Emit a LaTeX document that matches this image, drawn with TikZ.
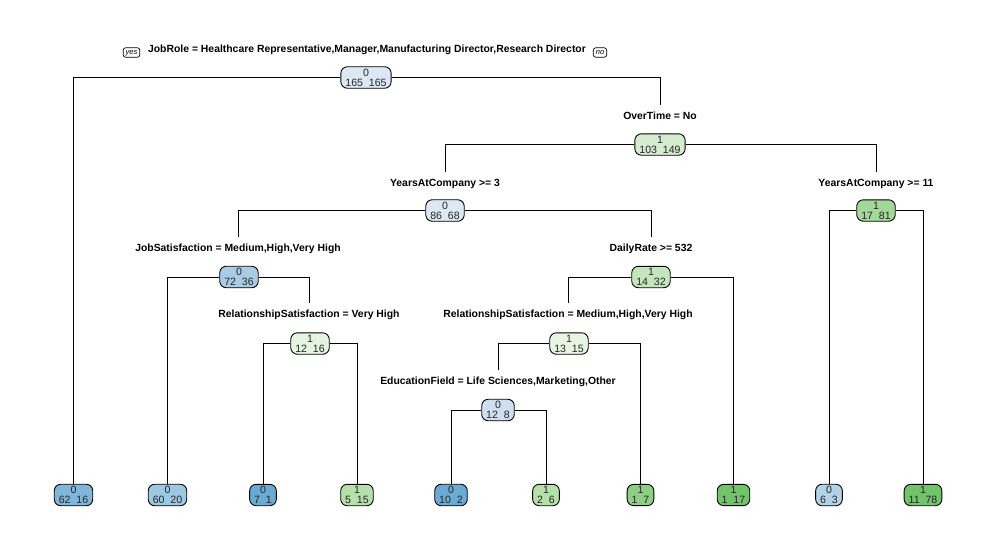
\documentclass[tikz,border=0pt]{standalone}
\usepackage{fontspec}
\setmainfont{Liberation Sans}
\definecolor{cA}{HTML}{DDE8F5}
\definecolor{cOT}{HTML}{D5ECCF}
\definecolor{cY11}{HTML}{A3D89A}
\definecolor{cJS}{HTML}{A8CCE4}
\definecolor{cRV}{HTML}{E5F4E0}
\definecolor{cDR}{HTML}{C5E6BD}
\definecolor{cRM}{HTML}{E8F5E3}
\definecolor{cEF}{HTML}{CFDFF0}
\definecolor{cL1}{HTML}{7FB6DC}
\definecolor{cL2}{HTML}{9DC8E3}
\definecolor{cL3}{HTML}{6AABD6}
\definecolor{cL4}{HTML}{B4E0AA}
\definecolor{cL7}{HTML}{8ECF85}
\definecolor{cL8}{HTML}{71C46A}
\definecolor{cL9}{HTML}{B1D2E8}
\begin{document}
\begin{tikzpicture}[x=1pt,y=-1pt,
  box/.style={draw, line width=0.9pt, rounded corners=6.5pt, align=center,
    inner xsep=4.5pt, inner ysep=2pt, text=black!85,
    font=\fontsize{10.6}{10}\selectfont},
  lbl/.style={font=\bfseries\fontsize{10.4}{11}\selectfont, inner xsep=1pt, inner ysep=5.5pt,
    text height=8pt, text depth=2pt},
  yn/.style={draw, line width=0.7pt, rounded corners=2.5pt, inner xsep=2.5pt, inner ysep=1.5pt,
    text height=5pt, text depth=1.5pt, font=\itshape\fontsize{7.5}{8}\selectfont},
  edge/.style={line width=1pt}]
\useasboundingbox (0,0) rectangle (997,547);
% split labels
\node[lbl] (l1) at (367,49) {JobRole = Healthcare Representative,Manager,Manufacturing Director,Research Director};
\node[yn] (yes) at (131.5,52.5) {yes};
\node[yn] (no) at (600,52.5) {no};
\node[lbl] (l2) at (660,116) {OverTime = No};
\node[lbl] (l3) at (445,183) {YearsAtCompany >= 3};
\node[lbl] (l4) at (876,183) {YearsAtCompany >= 11};
\node[lbl] (l5) at (238,248) {JobSatisfaction = Medium,High,Very High};
\node[lbl] (l6) at (651,248) {DailyRate >= 532};
\node[lbl] (l7) at (309,314) {RelationshipSatisfaction = Very High};
\node[lbl] (l8) at (568,314) {RelationshipSatisfaction = Medium,High,Very High};
\node[lbl] (l9) at (498,381) {EducationField = Life Sciences,Marketing,Other};
% internal nodes
\node[box, fill=cA] (n1) at (366,77.5) {0\\165\ \ 165};
\node[box, fill=cOT] (n2) at (660,144.5) {1\\103\ \ 149};
\node[box, fill=cA] (n3) at (445,210.5) {0\\86\ \ 68};
\node[box, fill=cY11] (n4) at (876,210.5) {1\\17\ \ 81};
\node[box, fill=cJS] (n5) at (239,277) {0\\72\ \ 36};
\node[box, fill=cDR] (n6) at (651,277) {1\\14\ \ 32};
\node[box, fill=cRV] (n7) at (310,343.5) {1\\12\ \ 16};
\node[box, fill=cRM] (n8) at (569,343.5) {1\\13\ \ 15};
\node[box, fill=cEF] (n9) at (498,410) {0\\12\ \ 8};
% leaves
\node[box, fill=cL1] (f1) at (73.5,495) {0\\62\ \ 16};
\node[box, fill=cL2] (f2) at (167.5,495) {0\\60\ \ 20};
\node[box, fill=cL3] (f3) at (263,495) {0\\7\ \ 1};
\node[box, fill=cL4] (f4) at (357,495) {1\\5\ \ 15};
\node[box, fill=cL3] (f5) at (451,495) {0\\10\ \ 2};
\node[box, fill=cL4] (f6) at (546,495) {1\\2\ \ 6};
\node[box, fill=cL7] (f7) at (640.5,495) {1\\1\ \ 7};
\node[box, fill=cL8] (f8) at (733.5,495) {1\\1\ \ 17};
\node[box, fill=cL9] (f9) at (829,495) {0\\6\ \ 3};
\node[box, fill=cL8] (f10) at (923,495) {1\\11\ \ 78};
% edges
\draw[edge] (n1.west) -| (f1.north);
\draw[edge] (n1.east) -| (l2.north);
\draw[edge] (n2.west) -| (l3.north);
\draw[edge] (n2.east) -| (l4.north);
\draw[edge] (n3.west) -| (l5.north);
\draw[edge] (n3.east) -| (l6.north);
\draw[edge] (n4.west) -| (f9.north);
\draw[edge] (n4.east) -| (f10.north);
\draw[edge] (n5.west) -| (f2.north);
\draw[edge] (n5.east) -| (l7.north);
\draw[edge] (n7.west) -| (f3.north);
\draw[edge] (n7.east) -| (f4.north);
\draw[edge] (n6.west) -| (l8.north);
\draw[edge] (n6.east) -| (f8.north);
\draw[edge] (n8.west) -| (l9.north);
\draw[edge] (n8.east) -| (f7.north);
\draw[edge] (n9.west) -| (f5.north);
\draw[edge] (n9.east) -| (f6.north);
\end{tikzpicture}
\end{document}
